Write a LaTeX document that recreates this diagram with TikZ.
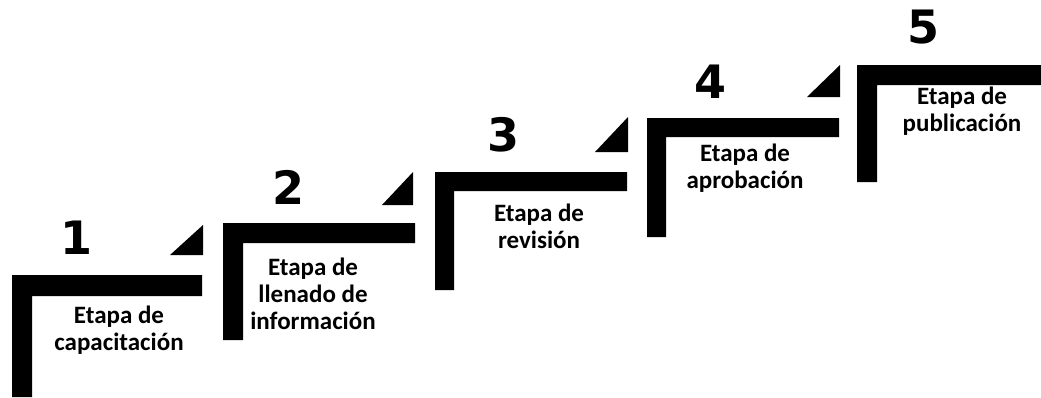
\documentclass[tikz,border=0pt]{standalone}
\usepackage{fontspec}
\setmainfont{Carlito}
\newfontfamily\numfont{DejaVu Sans}
\begin{document}
\begin{tikzpicture}[x=1pt,y=-1pt,
  stagebar/.style={fill=black,draw=none},
  stagetri/.style={fill=black,draw=none},
  stagenum/.style={font=\numfont\bfseries\fontsize{46}{46}\selectfont,inner sep=0pt,anchor=center},
  stagetext/.style={font=\bfseries\fontsize{25}{27}\selectfont,align=center,inner sep=0pt,anchor=center}]
\useasboundingbox (0,0) rectangle (1041,397);
% step 1
\fill[stagebar] (12,275) -- (202,275) -- (202,296) -- (32,296) -- (32,397) -- (12,397) -- cycle;
\fill[stagetri] (170,255) -- (203,255) -- (203,225) -- cycle;
\node[stagenum] (n1) at (77,238) {1};
\node[stagetext] (t1) at (119,330) {Etapa de\\capacitación};
% step 2
\fill[stagebar] (223,223) -- (415,223) -- (415,243) -- (243,243) -- (243,340) -- (223,340) -- cycle;
\fill[stagetri] (382,205) -- (413,205) -- (413,172) -- cycle;
\node[stagenum] (n2) at (288,187) {2};
\node[stagetext] (t2) at (313,294) {Etapa de\\llenado de\\información};
% step 3
\fill[stagebar] (435,172) -- (627,172) -- (627,191) -- (454,191) -- (454,290) -- (435,290) -- cycle;
\fill[stagetri] (595,152) -- (628,152) -- (628,117) -- cycle;
\node[stagenum] (n3) at (503,135) {3};
\node[stagetext] (t3) at (539,226) {Etapa de\\revisión};
% step 4
\fill[stagebar] (647,118) -- (839,118) -- (839,137) -- (666,137) -- (666,237) -- (647,237) -- cycle;
\fill[stagetri] (807,97) -- (840,97) -- (840,65) -- cycle;
\node[stagenum] (n4) at (710,82) {4};
\node[stagetext] (t4) at (745,168) {Etapa de\\aprobación};
% step 5
\fill[stagebar] (857,65) -- (1041,65) -- (1041,85) -- (877,85) -- (877,182) -- (857,182) -- cycle;
\node[stagenum] (n5) at (923,27) {5};
\node[stagetext] (t5) at (962,111) {Etapa de\\publicación};
\end{tikzpicture}
\end{document}
